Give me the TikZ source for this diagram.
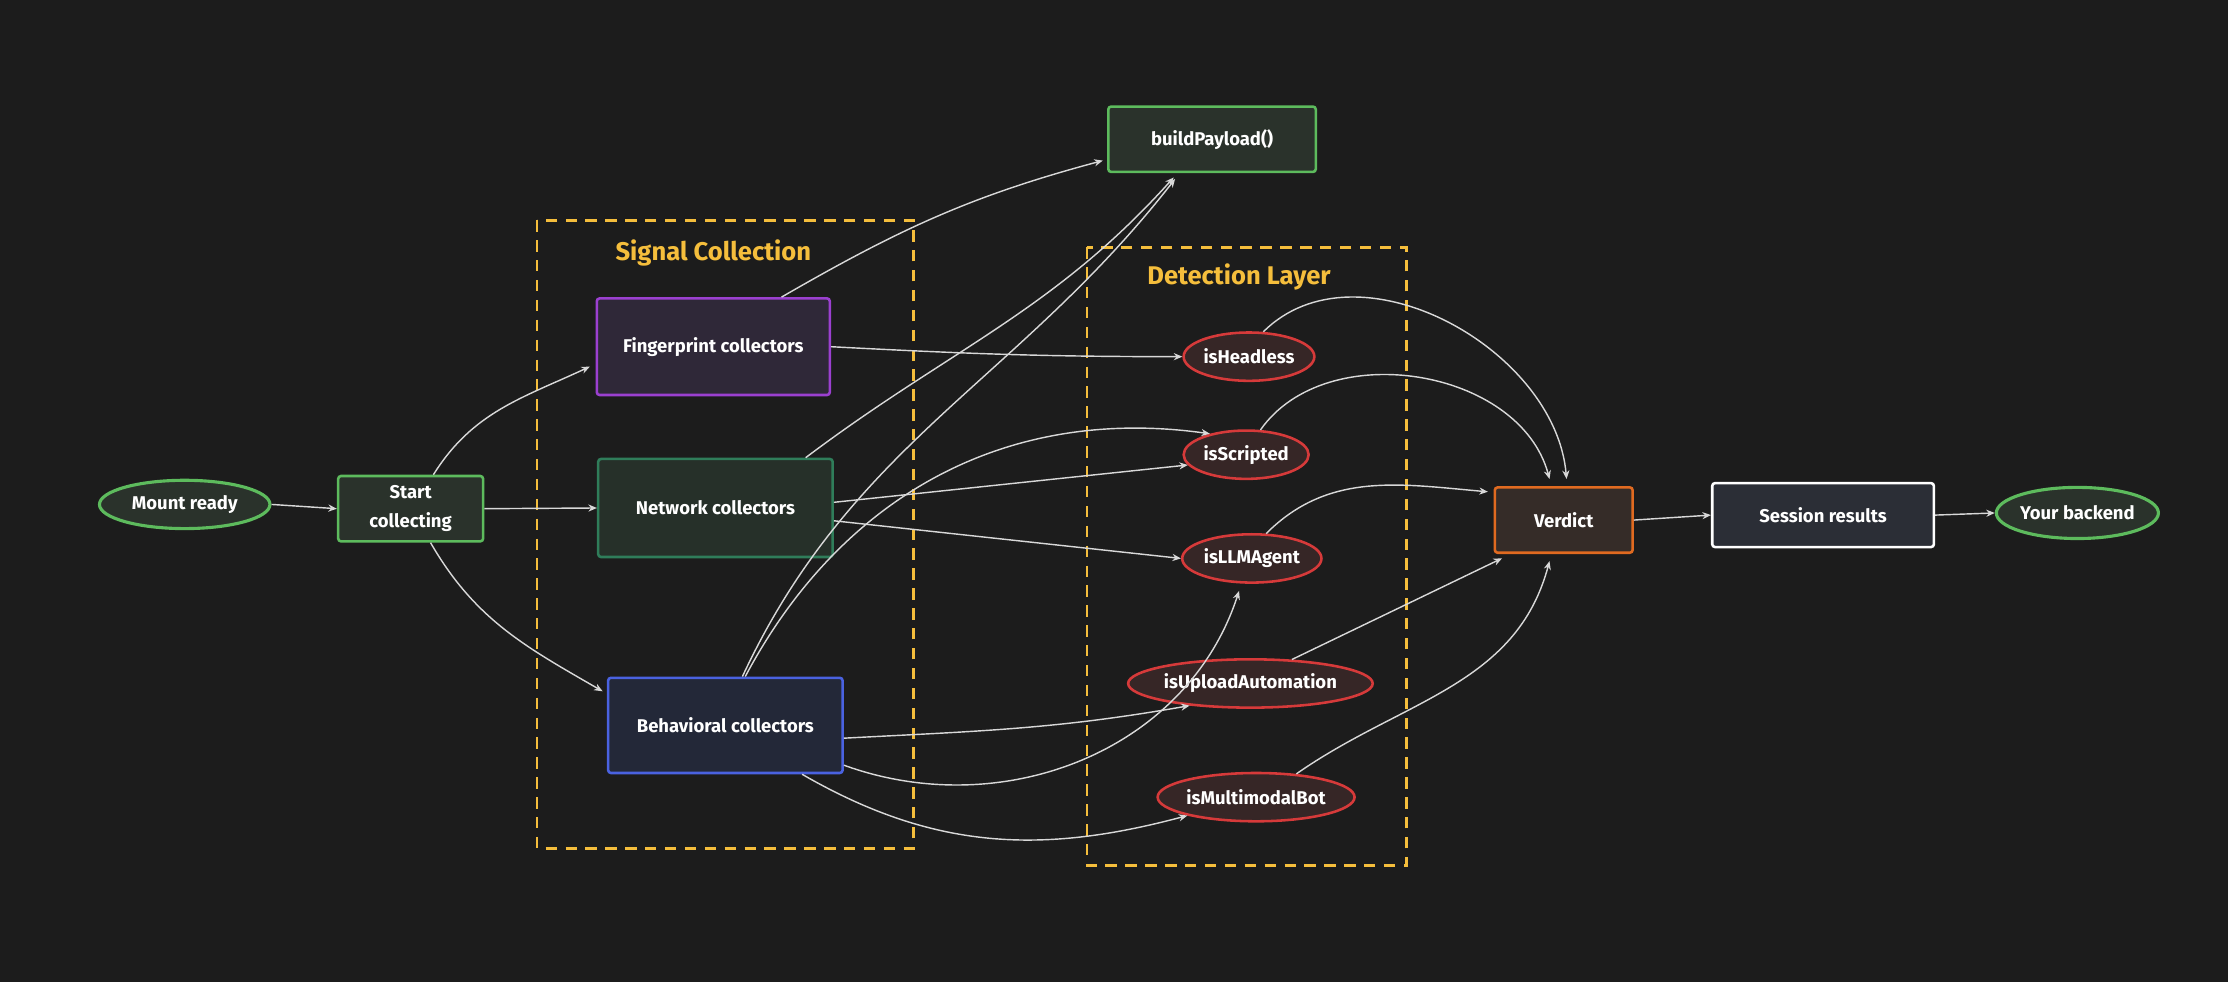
\documentclass[tikz,border=0pt]{standalone}
\usepackage{fontspec}
\setmainfont{Fira Sans}
\usetikzlibrary{shapes.geometric,arrows.meta,calc}
\definecolor{bg}{HTML}{1C1C1C}
\definecolor{gb}{HTML}{5DBB5D}
\definecolor{gf}{HTML}{2A322B}
\definecolor{rb}{HTML}{D63A3A}
\definecolor{rf}{HTML}{362626}
\definecolor{yl}{HTML}{F5BE3C}
\definecolor{ln}{HTML}{D8D8D8}
\definecolor{pb}{HTML}{9B40D0}\definecolor{pf}{HTML}{2F2838}
\definecolor{nb}{HTML}{2F7D5A}\definecolor{nf}{HTML}{263029}
\definecolor{bb}{HTML}{4A62E0}\definecolor{bf}{HTML}{232838}
\definecolor{ob}{HTML}{E06A20}\definecolor{of}{HTML}{352C28}
\definecolor{sf}{HTML}{2B2E36}
\begin{document}
\begin{tikzpicture}[x=0.5pt,y=0.5pt,
  base/.style={text=white,font=\fontsize{6.5}{8}\selectfont\bfseries,inner sep=0pt,align=center,line width=0.9pt},
  box/.style={base,rectangle,rounded corners=1pt},
  gbox/.style={box,draw=gb,fill=gf},
  gell/.style={base,ellipse,draw=gb,fill=gf,line width=1.1pt},
  rell/.style={base,ellipse,draw=rb,fill=rf,minimum height=17pt},
  grp/.style={draw=yl,line width=0.9pt,dash pattern=on 4pt off 3pt},
  ttl/.style={text=yl,font=\fontsize{9}{11}\selectfont\bfseries},
  ar/.style={draw=ln,line width=0.5pt,-{Stealth[length=3pt,width=2.5pt]}}]
\fill[bg] (0,0) rectangle (1568,-691);
\useasboundingbox (0,0) rectangle (1568,-691);
% groups
\draw[grp] (378,-155) rectangle (643,-597);
\node[ttl] (t1) at (502,-178) {Signal Collection};
\draw[grp] (765,-174) rectangle (990,-609);
\node[ttl] (t2) at (872,-195) {Detection Layer};
% nodes
\node[gell,minimum width=60pt,minimum height=17pt] (mount) at (130,-355) {Mount ready};
\node[gbox,minimum width=51pt,minimum height=23pt] (start) at (289,-358) {Start\\[2pt]collecting};
\node[box,draw=pb,fill=pf,minimum width=82pt,minimum height=34pt] (fp) at (502,-244) {Fingerprint collectors};
\node[box,draw=nb,fill=nf,minimum width=82.5pt,minimum height=34.5pt] (net) at (503.5,-357.5) {Network collectors};
\node[box,draw=bb,fill=bf,minimum width=82.5pt,minimum height=33.5pt] (beh) at (510.5,-510.5) {Behavioral collectors};
\node[gbox,minimum width=73pt,minimum height=23pt] (build) at (853,-98) {buildPayload()};
\node[rell,minimum width=46pt] (hl) at (879,-251) {isHeadless};
\node[rell,minimum width=44pt] (sc) at (877,-320) {isScripted};
\node[rell,minimum width=49pt] (llm) at (881,-393) {isLLMAgent};
\node[rell,minimum width=80pt] (up) at (880,-481) {isUploadAutomation};
\node[rell,minimum width=66pt] (mm) at (884,-561) {isMultimodalBot};
\node[box,draw=ob,fill=of,minimum width=48.5pt,minimum height=23pt] (vd) at (1100.5,-366) {Verdict};
\node[box,draw=white,fill=sf,minimum width=78pt,minimum height=22.5pt] (ses) at (1283,-362.5) {Session results};
\node[gell,minimum width=55pt,minimum height=18pt] (be) at (1462,-361) {Your backend};
% edges
\draw[ar] (mount.east) -- (start.west);
\draw[ar] (start.east) -- (net.west);
\draw[ar] ($(start.north)+(16,0)$) to[out=58,in=205] ($(fp.west)+(-4,-14)$);
\draw[ar] ($(start.south)+(14,0)$) to[out=-60,in=150] ($(beh.west)+(-3,24)$);
\draw[ar] ($(fp.north)+(48,0)$) to[out=30,in=195] ($(build.west)+(-3,-15)$);
\draw[ar] (fp.east) to[out=-3,in=180] (hl.west);
\draw[ar] ($(net.north)+(63.5,0)$) to[out=37,in=228] ($(build.south)+(-27,-3)$);
\draw[ar] ($(beh.north)+(12,0)$) to[out=65,in=232] ($(build.south)+(-26,-4)$);
\draw[ar] ($(beh.north)+(14,0)$) to[out=62,in=172] (sc.150);
\draw[ar] ($(net.east)+(0,4)$) -- (sc.190);
\draw[ar] ($(net.east)+(0,-9)$) -- (llm.west);
\draw[ar] ($(beh.east)+(0,-9)$) to[out=3,in=190] (up.200);
\draw[ar] ($(beh.east)+(0,-28)$) to[out=-20,in=-108] ($(llm.south)+(-9,-5)$);
\draw[ar] ($(beh.south)+(54,0)$) to[out=-30,in=195] (mm.195);
\draw[ar] (hl.60) to[out=45,in=95] ($(vd.north)+(2,5)$);
\draw[ar] (sc.60) to[out=55,in=105] ($(vd.north)+(-10,5)$);
\draw[ar] (llm.60) to[out=45,in=175] ($(vd.north west)+(-4,-4)$);
\draw[ar] (up.30) -- ($(vd.south west)+(6,-3)$);
\draw[ar] (mm.30) to[out=35,in=-105] ($(vd.south)+(-10,-5)$);
\draw[ar] (vd.east) -- (ses.west);
\draw[ar] (ses.east) -- (be.west);
\end{tikzpicture}
\end{document}
